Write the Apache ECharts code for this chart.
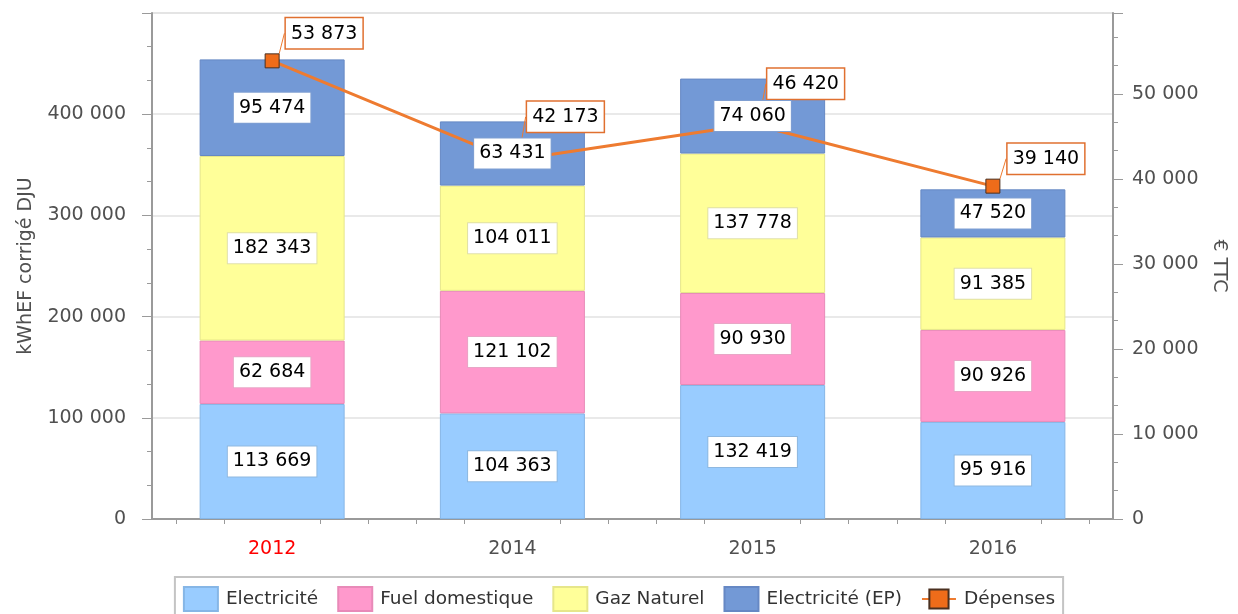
<!DOCTYPE html>
<html lang="fr">
  <head>
    <meta charset="UTF-8" />
    <script src="https://cdn.jsdelivr.net/npm/echarts@6/dist/echarts.min.js"></script>
    <title>Consommations et dépenses</title>
    <style>
      html, body { margin: 0; padding: 0; background: #fff; }
      #container { width: 1238px; height: 614px; }
    </style>
  </head>
  <body>
    <div id="container"></div>

    <script>
      // data
      const categories = ["2012", "2014", "2015", "2016"];
      const electricite = [113669, 104363, 132419, 95916];
      const fuelDomestique = [62684, 121102, 90930, 90926];
      const gazNaturel = [182343, 104011, 137778, 91385];
      const electriciteEP = [95474, 63431, 74060, 47520];
      const depenses = [53873, 42173, 46420, 39140];

      const FONT = "DejaVu Sans";
      // label nudges for the Dépenses boxes (dx, dy)
      const lineLabelShift = [[52, 0], [53, -16], [53, -13], [53, 0]];

      const myChart = echarts.init(document.getElementById("container"));

      function fmt(v) {
        return String(Math.round(v)).replace(/\B(?=(\d{3})+(?!\d))/g, " ");
      }

      const barDefs = [
        { name: "Electricité", data: electricite, color: "#99ccff", border: "#86b6e6", label: "#8fb8e0" },
        { name: "Fuel domestique", data: fuelDomestique, color: "#ff99cc", border: "#e88ab8", label: "#e8a6c6" },
        { name: "Gaz Naturel", data: gazNaturel, color: "#ffff99", border: "#e6e68a", label: "#e0e0a8" },
        { name: "Electricité (EP)", data: electriciteEP, color: "#7399d6", border: "#6688c4", label: "#7f9fd2" },
      ];

      const series = [];
      // the bars themselves
      barDefs.forEach((d) => {
        series.push({
          name: d.name,
          type: "bar",
          stack: "conso",
          data: d.data,
          barWidth: 145,
          z: 2,
          itemStyle: { color: d.color, borderColor: d.border, borderWidth: 1 },
          emphasis: { disabled: true },
        });
      });

      series.push({
        name: "Dépenses",
        type: "line",
        yAxisIndex: 1,
        data: depenses,
        z: 4,
        symbol: "rect",
        symbolSize: 14,
        lineStyle: { color: "#ee7b30", width: 3 },
        itemStyle: { color: "#ef6c1a", borderColor: "#4a3020", borderWidth: 1 },
        label: {
          show: true,
          position: "top",
          formatter: (p) => fmt(p.value),
          backgroundColor: "#fff",
          borderColor: "#e07030",
          borderWidth: 1.5,
          padding: [6, 5, 5, 5],
          color: "#000",
          fontSize: 19,
          fontFamily: FONT,
        },
        labelLine: { show: true, lineStyle: { color: "#ee7b30", width: 1 } },
        labelLayout: function (params) {
          const s = lineLabelShift[params.dataIndex];
          return { dx: s[0], dy: s[1] };
        },
        emphasis: { disabled: true },
      });

      // transparent copies on top, only to carry the bar labels above the line
      barDefs.forEach((d) => {
        series.push({
          name: d.name,
          type: "bar",
          stack: "labels",
          data: d.data,
          barWidth: 145,
          barGap: "-100%",
          z: 5,
          silent: true,
          itemStyle: { color: "rgba(0,0,0,0)" },
          label: {
            show: true,
            position: "inside",
            formatter: (p) => fmt(p.value),
            backgroundColor: "#fff",
            borderColor: d.label,
            borderWidth: 1,
            padding: [6, 5, 5, 5],
            color: "#000",
            fontSize: 19,
            fontFamily: FONT,
          },
          emphasis: { disabled: true },
        });
      });

      // minor tick positions on the category axis
      const minorX = [];
      for (let i = 0; i < categories.length; i++) {
        [0.1, 0.3, 0.7, 0.9].forEach((f) => minorX.push(i + f));
      }

      const axisColor = "#9a9a9a";
      const labelColor = "#505050";

      const legendData = barDefs
        .map((d) => ({ name: d.name, icon: "rect" }))
        .concat([{ name: "Dépenses" }]);

      const option = {
        animation: false,
        grid: {
          left: 152,
          right: 125,
          top: 13,
          bottom: 95,
          show: true,
          borderColor: "#d8d8d8",
          borderWidth: 1,
        },
        legend: {
          data: legendData,
          top: 577,
          left: "center",
          padding: [9, 8, 9, 8],
          itemGap: 19,
          itemWidth: 34,
          itemHeight: 24,
          borderColor: "#c4c4c4",
          borderWidth: 2,
          textStyle: { fontSize: 18.5, color: "#333", fontFamily: FONT, padding: [0, 0, 0, 3] },
        },
        xAxis: [
          {
            type: "category",
            data: categories,
            axisLine: { lineStyle: { color: axisColor, width: 2 } },
            axisTick: { alignWithLabel: true, length: 10, lineStyle: { color: axisColor } },
            axisLabel: {
              margin: 21,
              fontSize: 19,
              fontFamily: FONT,
              color: (value, index) => (index === 0 ? "#ff0000" : labelColor),
            },
          },
          {
            type: "value",
            min: 0,
            max: categories.length,
            position: "bottom",
            axisLine: { show: false },
            splitLine: { show: false },
            axisLabel: { show: false },
            axisTick: { show: true, length: 5, customValues: minorX, lineStyle: { color: axisColor } },
          },
        ],
        yAxis: [
          {
            type: "value",
            min: 0,
            max: 500000,
            interval: 100000,
            name: "kWhEF corrigé DJU",
            nameLocation: "middle",
            nameGap: 116,
            nameRotate: 90,
            nameTextStyle: { fontSize: 19, color: labelColor, fontFamily: FONT },
            axisLine: { show: true, lineStyle: { color: axisColor, width: 2 } },
            axisTick: { show: true, length: 10, lineStyle: { color: axisColor } },
            minorTick: { show: true, splitNumber: 3, length: 5, lineStyle: { color: axisColor } },
            splitLine: { show: true, lineStyle: { color: "#e2e2e2", width: 1.5 } },
            axisLabel: {
              formatter: fmt,
              showMaxLabel: false,
              margin: 26,
              fontSize: 19,
              color: labelColor,
              fontFamily: FONT,
            },
          },
          {
            type: "value",
            min: 0,
            max: 59500,
            interval: 10000,
            position: "right",
            name: "€ TTC",
            nameLocation: "middle",
            nameGap: 92,
            nameRotate: -90,
            nameTextStyle: { fontSize: 19, color: labelColor, fontFamily: FONT },
            axisLine: { show: true, lineStyle: { color: axisColor, width: 2 } },
            axisTick: { show: true, length: 10, lineStyle: { color: axisColor } },
            minorTick: { show: true, splitNumber: 3, length: 5, lineStyle: { color: axisColor } },
            splitLine: { show: false },
            axisLabel: {
              formatter: fmt,
              showMaxLabel: false,
              margin: 19,
              fontSize: 19,
              color: labelColor,
              fontFamily: FONT,
            },
          },
        ],
        series: series,
      };

      myChart.setOption(option);
    </script>
  </body>
</html>
